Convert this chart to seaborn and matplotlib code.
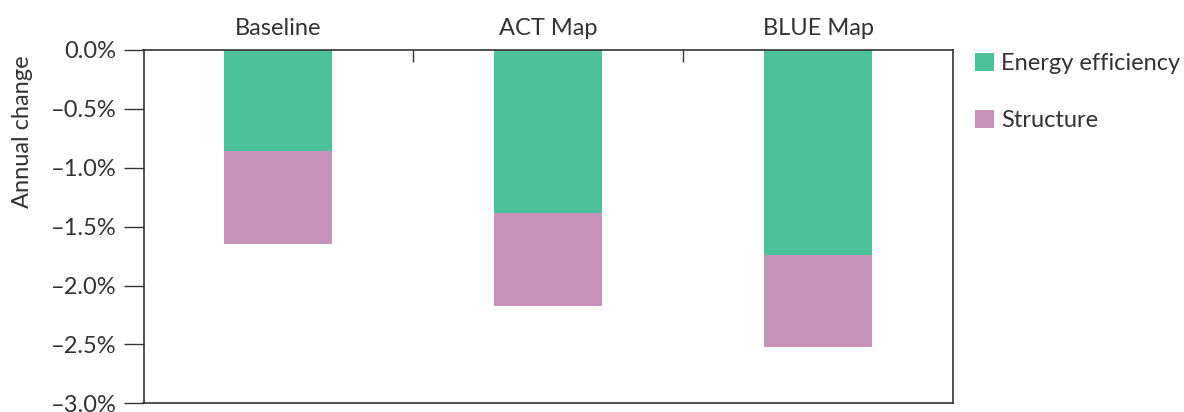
import matplotlib
matplotlib.use("Agg")
import matplotlib.pyplot as plt
import seaborn as sns
import pandas as pd
from matplotlib.ticker import FixedLocator, FuncFormatter
from matplotlib.patches import Patch

# Annual change decomposition by scenario (percentage points)
scenarios = ["Baseline", "ACT Map", "BLUE Map"]
energy_efficiency = [-0.86, -1.38, -1.74]
structure = [-0.79, -0.79, -0.78]
series_names = ["Energy efficiency", "Structure"]
y_ticks = [0.0, -0.5, -1.0, -1.5, -2.0, -2.5, -3.0]

GREEN = "#4BC29A"
PINK = "#C792BA"
INK = "#333333"
FS = 17

sns.set_theme(style="white")
plt.rcParams["font.family"] = ["Lato", "DejaVu Sans"]
plt.rcParams["text.color"] = INK

df = pd.DataFrame({
    "scenario": scenarios,
    "energy": energy_efficiency,
    "total": [e + s for e, s in zip(energy_efficiency, structure)],
})

W, H = 1184, 412
fig = plt.figure(figsize=(W / 100, H / 100), dpi=100)
ax = fig.add_axes([143.5 / W, 1 - 403.3 / H, 809.5 / W, 353.3 / H])

# stacked bars: full height (structure on the bottom part), then energy efficiency on top
sns.barplot(data=df, x="scenario", y="total", color=PINK, width=0.4,
            saturation=1, linewidth=0, ax=ax)
sns.barplot(data=df, x="scenario", y="energy", color=GREEN, width=0.4,
            saturation=1, linewidth=0, ax=ax)

ax.set_xlim(-0.5, 2.5)
ax.set_ylim(-3.0, 0.0)

# category labels on top, with small dividers between groups
ax.xaxis.tick_top()
ax.set_xlabel("")
ax.tick_params(axis="x", which="major", length=0, pad=8, labelsize=FS,
               labelcolor=INK, top=True, bottom=False)
ax.xaxis.set_minor_locator(FixedLocator([0.5, 1.5]))
ax.tick_params(axis="x", which="minor", direction="in", length=8.6, width=1,
               color=INK, top=True, bottom=False)

ax.set_yticks(y_ticks)
ax.yaxis.set_major_formatter(FuncFormatter(
    lambda v, _: f"{v:.1f}%".replace("-", "\u2013") if abs(v) > 1e-9 else "0.0%"))
ax.tick_params(axis="y", direction="out", length=14.4, width=1, pad=5,
               labelsize=FS, labelcolor=INK, left=True, color=INK)

ax.set_ylabel("Annual change", fontsize=FS, color=INK)
ax.yaxis.set_label_coords(-0.1365, 0.768)

for sp in ax.spines.values():
    sp.set_visible(True)
    sp.set_color(INK)
    sp.set_linewidth(1.2)

handles = [Patch(facecolor=GREEN, edgecolor="none"),
           Patch(facecolor=PINK, edgecolor="none")]
fig.legend(handles, series_names, loc="upper left",
           bbox_to_anchor=(975 / W, 1 - 53 / H), frameon=False, fontsize=FS,
           handlelength=0.8, handleheight=0.8, handletextpad=0.3,
           labelspacing=1.5, borderpad=0, borderaxespad=0)

fig.savefig("out.png", dpi=100)
